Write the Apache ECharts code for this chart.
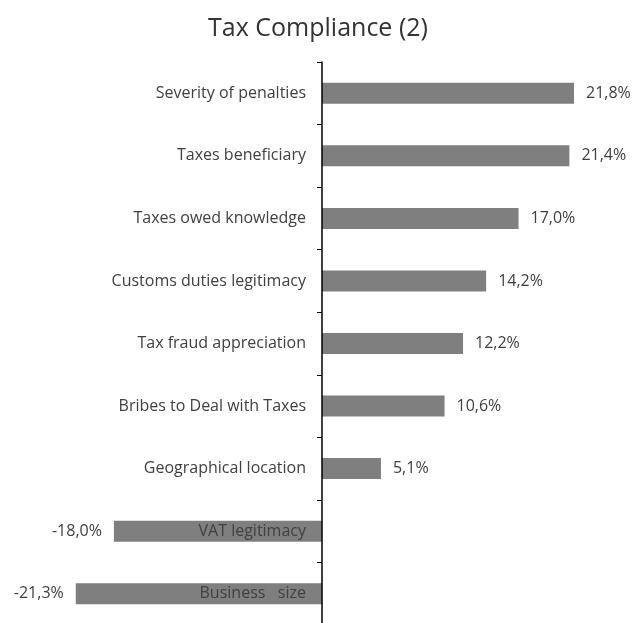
<!DOCTYPE html>
<html>
<head>
<meta charset="utf-8">
<script src="https://cdn.jsdelivr.net/npm/echarts@6/dist/echarts.min.js"></script>
<style>
  html, body { margin: 0; padding: 0; background: #fff; }
  #chart { width: 636px; height: 623px; }
</style>
</head>
<body>
<div id="chart"></div>
<script>
// Factors, listed top to bottom
const categories = [
  'Severity of penalties',
  'Taxes beneficiary',
  'Taxes owed knowledge',
  'Customs duties legitimacy',
  'Tax fraud appreciation',
  'Bribes to Deal with Taxes',
  'Geographical location',
  'VAT legitimacy',
  'Business   size'
];
// Percentage values for each factor
const values = [21.8, 21.4, 17.0, 14.2, 12.2, 10.6, 5.1, -18.0, -21.3];

const X_MIN = -25, X_MAX = 25;
const GRID_LEFT = 33, GRID_WIDTH = 578;
// distance from the grid's left edge to the zero line
const zeroShift = GRID_WIDTH * (0 - X_MIN) / (X_MAX - X_MIN);

const chart = echarts.init(document.getElementById('chart'));
const font = 'Open Sans, Liberation Sans, sans-serif';

chart.setOption({
  animation: false,
  title: {
    text: 'Tax Compliance (2)',
    left: 'center',
    top: 11,
    textStyle: { fontFamily: font, fontSize: 25, fontWeight: 'normal', color: '#333' }
  },
  grid: {
    left: GRID_LEFT, width: GRID_WIDTH, top: 62, height: 563,
    containLabel: false, outerBoundsMode: 'none'
  },
  xAxis: {
    type: 'value',
    min: X_MIN,
    max: X_MAX,
    show: false
  },
  yAxis: {
    type: 'category',
    inverse: true,
    data: categories,
    offset: -zeroShift,
    z: 5, // category names sit on top of the negative bars
    axisLine: { onZero: false, lineStyle: { color: '#000', width: 1.5 } },
    axisTick: { show: true, length: 5, lineStyle: { color: '#000' } },
    axisLabel: { fontFamily: font, fontSize: 16, color: '#404040', margin: 16 }
  },
  series: [{
    type: 'bar',
    data: values.map(v => v < 0 ? { value: v, label: { position: 'left' } } : v),
    barWidth: 21,
    itemStyle: { color: '#7f7f7f' },
    label: {
      show: true,
      fontFamily: font,
      fontSize: 16,
      color: '#404040',
      distance: 12,
      position: 'right',
      formatter: p => p.value.toFixed(1).replace('.', ',') + '%'
    }
  }]
});
</script>
</body>
</html>
